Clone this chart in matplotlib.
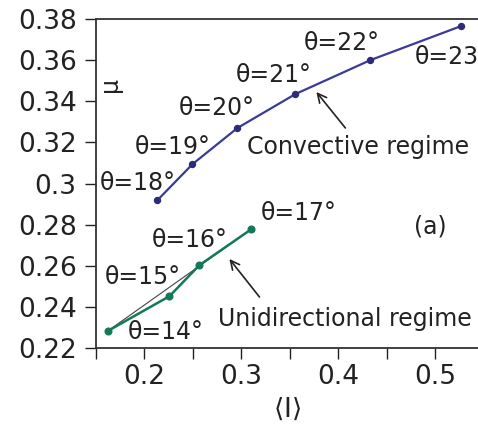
import matplotlib
matplotlib.use("Agg")
import matplotlib.pyplot as plt
from matplotlib.ticker import FixedLocator, FuncFormatter

plt.rcParams['font.family'] = ['DejaVu Sans']

# Convective regime: mean inertial number vs friction coefficient
conv_angle = [18, 19, 20, 21, 22, 23]
conv_I = [0.2134, 0.2495, 0.2959, 0.3557, 0.4330, 0.5268]
conv_mu = [0.2919, 0.3094, 0.3270, 0.3435, 0.3600, 0.3766]

# Unidirectional regime
uni_angle = [14, 15, 16, 17]
uni_I = [0.1619, 0.2258, 0.2567, 0.3103]
uni_mu = [0.2282, 0.2452, 0.2603, 0.2778]

x_ticks = [0.15, 0.2, 0.25, 0.3, 0.35, 0.4, 0.45, 0.5]
x_ticklabels = ["", "0.2", "", "0.3", "", "0.4", "", "0.5"]
y_ticks = [0.22, 0.24, 0.26, 0.28, 0.30, 0.32, 0.34, 0.36, 0.38]

conv_color = "#3a3a9a"
uni_color = "#127a55"

fig = plt.figure(figsize=(4.78, 4.24), dpi=100)
ax = fig.add_axes([96 / 478, 1 - 348 / 424, 1 - 96 / 478, (348 - 19) / 424])

ax.plot(conv_I, conv_mu, color=conv_color, lw=1.6, marker="o", ms=4.3,
        mfc="#2c2c78", mec="#2c2c78", zorder=3)
ax.plot([uni_I[0], uni_I[-1]], [uni_mu[0], uni_mu[-1]], color="#444444",
        lw=0.8, zorder=2)
ax.plot(uni_I, uni_mu, color=uni_color, lw=1.8, marker="o", ms=4.8,
        mfc=uni_color, mec=uni_color, zorder=3)

ax.set_xlim(0.15, 0.544)
ax.set_ylim(0.22, 0.38)

# label offsets in pixels (dx right, dy up) from each point
conv_off = [(-20, 17), (-20, 17), (-21, 20), (-22, 19), (-29, 17), (-9, -31)]
uni_off = [(58, -1), (-27, 19), (-10, 25), (47, 16)]
k = 72 / 100
for a, x, y, (dx, dy) in zip(conv_angle, conv_I, conv_mu, conv_off):
    ax.annotate(f"θ={a}°", (x, y), xytext=(dx * k, dy * k),
                textcoords="offset points", ha="center", va="center",
                fontsize=17, color="#222222", annotation_clip=False)
for a, x, y, (dx, dy) in zip(uni_angle, uni_I, uni_mu, uni_off):
    ax.annotate(f"θ={a}°", (x, y), xytext=(dx * k, dy * k),
                textcoords="offset points", ha="center", va="center",
                fontsize=17, color="#222222")

arrow = dict(arrowstyle="->", color="#222222", lw=1.2,
             shrinkA=0, shrinkB=0, mutation_scale=16)
ax.annotate("", xy=(0.3773, 0.3445), xytext=(0.4072, 0.3270), arrowprops=arrow)
ax.annotate("", xy=(0.2876, 0.2633), xytext=(0.3186, 0.2448), arrowprops=arrow)
ax.text(0.4206, 0.3177, "Convective regime", ha="center", va="center",
        fontsize=17, color="#222222")
ax.text(0.4062, 0.2341, "Unidirectional regime", ha="center", va="center",
        fontsize=17, color="#222222")
ax.text(0.4948, 0.2793, "(a)", ha="center", va="center", fontsize=17,
        color="#222222")
ax.text(0.037, 0.80, "μ", transform=ax.transAxes, rotation=90,
        ha="center", va="center", fontsize=17, color="#222222")

ax.xaxis.set_major_locator(FixedLocator(x_ticks))
ax.set_xticklabels(x_ticklabels)
ax.yaxis.set_major_locator(FixedLocator(y_ticks))
ax.yaxis.set_major_formatter(FuncFormatter(lambda v, p: f"{v:g}"))
ax.tick_params(axis="both", direction="out", labelsize=19, colors="#222222",
               width=1.0, length=8)
ax.tick_params(axis="y", pad=6)
ax.set_xlabel(r"$\langle \mathrm{I} \rangle$", fontsize=19, color="#222222",
              labelpad=5)

ax.spines["right"].set_visible(False)
for s in ("left", "bottom", "top"):
    ax.spines[s].set_color("#333333")
    ax.spines[s].set_linewidth(1.3)

fig.savefig("out.png", dpi=100)
